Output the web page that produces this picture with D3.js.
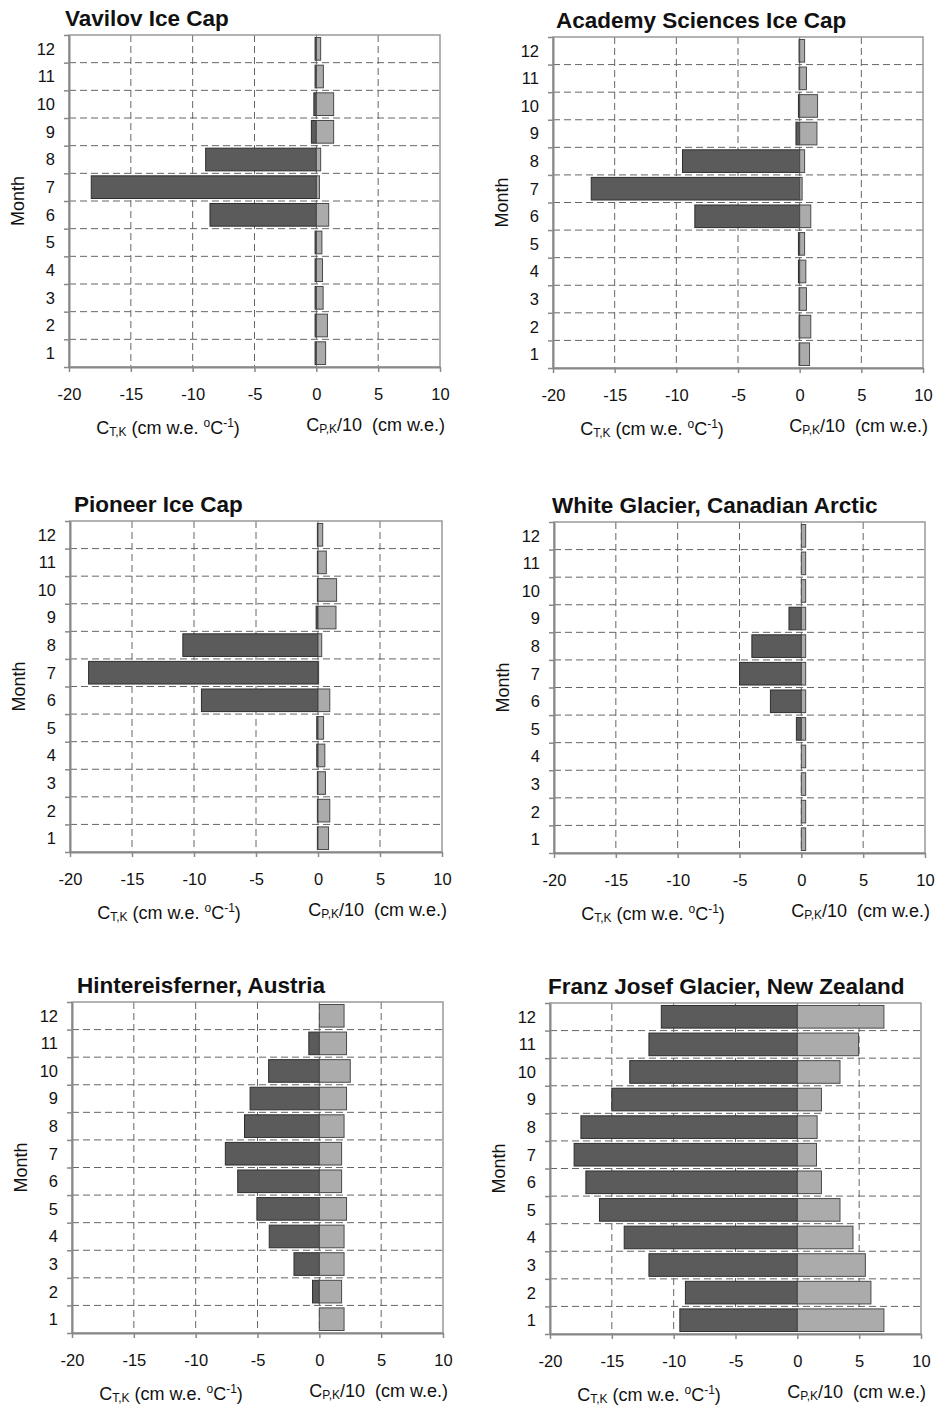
<!DOCTYPE html>
<html>
<head>
<meta charset="utf-8">
<script src="https://cdn.jsdelivr.net/npm/d3@7"></script>
<style>
  html, body { margin: 0; padding: 0; background: #fff; }
  svg text { font-family: "Liberation Sans", Arial, Helvetica, sans-serif; fill: #111; }
</style>
</head>
<body>
<svg id="chart" width="935" height="1407"></svg>
<script>
// ---- data (month order 1..12) ----
const months = [1, 2, 3, 4, 5, 6, 7, 8, 9, 10, 11, 12];
const xTicks = [-20, -15, -10, -5, 0, 5, 10];
const titles = [
  "Vavilov Ice Cap",
  "Academy Sciences Ice Cap",
  "Pioneer Ice Cap",
  "White Glacier, Canadian Arctic",
  "Hintereisferner, Austria",
  "Franz Josef Glacier, New Zealand"
];
// C_T,K (cm w.e. °C^-1)
const vavilovT  = [-0.1, -0.1, -0.1, -0.1, -0.1, -8.6, -18.2, -8.95, -0.4, -0.2, -0.1, -0.1];
const academyT  = [-0.05, -0.05, -0.05, -0.1, -0.1, -8.5, -16.9, -9.5, -0.3, -0.1, -0.05, -0.05];
const pioneerT  = [-0.05, -0.05, -0.05, -0.1, -0.1, -9.4, -18.5, -10.9, -0.15, -0.05, -0.05, -0.05];
const whiteT    = [0, 0, 0, 0, -0.4, -2.5, -5.0, -4.0, -1.0, 0, 0, 0];
const hinterT   = [0, -0.55, -2.05, -4.05, -5.05, -6.6, -7.6, -6.05, -5.6, -4.1, -0.85, 0];
const franzT    = [-9.5, -9.05, -12.0, -14.0, -16.0, -17.1, -18.05, -17.5, -15.0, -13.55, -12.0, -11.0];
// C_P,K / 10 (cm w.e.)
const vavilovP  = [0.75, 0.9, 0.55, 0.5, 0.45, 1.0, 0.25, 0.35, 1.4, 1.4, 0.57, 0.35];
const academyP  = [0.8, 0.9, 0.55, 0.5, 0.4, 0.9, 0.2, 0.4, 1.4, 1.45, 0.55, 0.4];
const pioneerP  = [0.85, 0.95, 0.6, 0.55, 0.45, 0.95, 0.05, 0.3, 1.45, 1.5, 0.67, 0.38];
const whiteP    = [0.35, 0.35, 0.35, 0.35, 0.35, 0.35, 0.35, 0.35, 0.35, 0.35, 0.35, 0.35];
const hinterP   = [2.0, 1.8, 2.0, 2.0, 2.2, 1.8, 1.8, 2.0, 2.2, 2.5, 2.2, 2.0];
const franzP    = [7.0, 5.95, 5.5, 4.5, 3.45, 1.95, 1.55, 1.6, 1.95, 3.45, 4.95, 7.0];

const seriesT = [vavilovT, academyT, pioneerT, whiteT, hinterT, franzT];
const seriesP = [vavilovP, academyP, pioneerP, whiteP, hinterP, franzP];

// ---- layout (plot frames) ----
const frames = [
  { l: 69,  r: 440, t: 35,   b: 367 },
  { l: 553, r: 923, t: 37,   b: 368 },
  { l: 70,  r: 442, t: 521,  b: 852 },
  { l: 554, r: 925, t: 522,  b: 853 },
  { l: 72,  r: 443, t: 1002, b: 1333 },
  { l: 550, r: 921, t: 1003, b: 1334 }
];
const titleOffsets = [-4, 3, 4, -2, 5, -2];

const svg = d3.select("#chart");
const darkFill = "#5b5b5b", darkStroke = "#2e2e2e";
const lightFill = "#ababab", lightStroke = "#4a4a4a";
const gridColor = "#666", frameColor = "#999";

frames.forEach((f, i) => {
  const g = svg.append("g");
  const x = d3.scaleLinear().domain([-20, 10]).range([f.l, f.r]);
  const y = d3.scaleBand().domain(months.slice().reverse()).range([f.t, f.b])
    .paddingInner(0.18).paddingOuter(0.09);
  const yb = d3.scaleLinear().domain([0, 12]).range([f.b, f.t]);

  // gridlines
  g.append("g").selectAll("line.v").data(xTicks.filter(v => v > -20 && v < 10)).join("line")
    .attr("x1", d => x(d)).attr("x2", d => x(d))
    .attr("y1", f.t).attr("y2", f.b)
    .attr("stroke", gridColor).attr("stroke-width", 1).attr("stroke-dasharray", "7,4");
  g.append("g").selectAll("line.h").data(d3.range(1, 12)).join("line")
    .attr("x1", f.l).attr("x2", f.r)
    .attr("y1", d => yb(d)).attr("y2", d => yb(d))
    .attr("stroke", gridColor).attr("stroke-width", 1).attr("stroke-dasharray", "7,4");

  // bars
  const T = seriesT[i], P = seriesP[i];
  g.append("g").selectAll("rect").data(months.filter((m, k) => T[k] !== 0)).join("rect")
    .attr("x", m => x(Math.min(0, T[m - 1])))
    .attr("width", m => Math.abs(x(T[m - 1]) - x(0)))
    .attr("y", m => y(m)).attr("height", y.bandwidth())
    .attr("fill", darkFill).attr("stroke", darkStroke).attr("stroke-width", 1);
  g.append("g").selectAll("rect").data(months).join("rect")
    .attr("x", m => x(0))
    .attr("width", m => x(P[m - 1]) - x(0))
    .attr("y", m => y(m)).attr("height", y.bandwidth())
    .attr("fill", lightFill).attr("stroke", lightStroke).attr("stroke-width", 1);

  // frame
  g.append("rect").attr("x", f.l).attr("y", f.t).attr("width", f.r - f.l).attr("height", f.b - f.t)
    .attr("fill", "none").attr("stroke", frameColor).attr("stroke-width", 1.5);

  // x axis
  const xa = g.append("g").attr("transform", `translate(0,${f.b})`)
    .call(d3.axisBottom(x).tickValues(xTicks).tickSize(5).tickSizeOuter(0).tickFormat(d => String(d)));
  xa.select(".domain").attr("stroke", "#888").attr("stroke-width", 2);
  xa.selectAll(".tick line").attr("stroke", "#888").attr("stroke-width", 1.5);
  xa.selectAll(".tick text").attr("y", 33).attr("dy", 0)
    .style("font-size", "16.5px").attr("fill", "#111");

  // y axis: boundary ticks
  const yt = g.append("g").attr("transform", `translate(${f.l},0)`)
    .call(d3.axisLeft(yb).tickValues(d3.range(0, 13)).tickSize(5).tickSizeOuter(0).tickFormat(""));
  yt.select(".domain").attr("stroke", "#888").attr("stroke-width", 2);
  yt.selectAll(".tick line").attr("stroke", "#888").attr("stroke-width", 1.5);
  // y axis: month labels
  const yl = g.append("g").attr("transform", `translate(${f.l - 14},0)`)
    .call(d3.axisLeft(y).tickSize(0).tickPadding(0));
  yl.select(".domain").remove();
  yl.selectAll(".tick text").style("font-size", "16.5px").attr("fill", "#111").attr("dy", "0.36em");

  // Month label
  g.append("text")
    .attr("transform", `translate(${f.l - 45},${(f.t + f.b) / 2}) rotate(-90)`)
    .attr("text-anchor", "middle").style("font-size", "18px").text("Month");

  // title
  g.append("text").attr("x", f.l + titleOffsets[i]).attr("y", f.t - 9)
    .style("font-size", "22.5px").style("font-weight", "bold").text(titles[i]);

  // axis labels
  const l1 = g.append("text").attr("x", f.l + 99).attr("y", f.b + 67)
    .attr("text-anchor", "middle").style("font-size", "18px").style("white-space", "pre");
  l1.append("tspan").text("C");
  l1.append("tspan").attr("dy", 2).style("font-size", "12px").text("T,K");
  l1.append("tspan").attr("dy", -2).text(" (cm w.e. ");
  l1.append("tspan").attr("dy", -7).style("font-size", "12px").text("o");
  l1.append("tspan").attr("dy", 7).text("C");
  l1.append("tspan").attr("dy", -7).style("font-size", "12px").text("-1");
  l1.append("tspan").attr("dy", 7).text(")");

  const l2 = g.append("text").attr("x", f.r + 5).attr("y", f.b + 64)
    .attr("text-anchor", "end").style("font-size", "18px").style("white-space", "pre");
  l2.append("tspan").text("C");
  l2.append("tspan").attr("dy", 2).style("font-size", "12px").text("P,K");
  l2.append("tspan").attr("dy", -2).text("/10  (cm w.e.)");
});
</script>
</body>
</html>
